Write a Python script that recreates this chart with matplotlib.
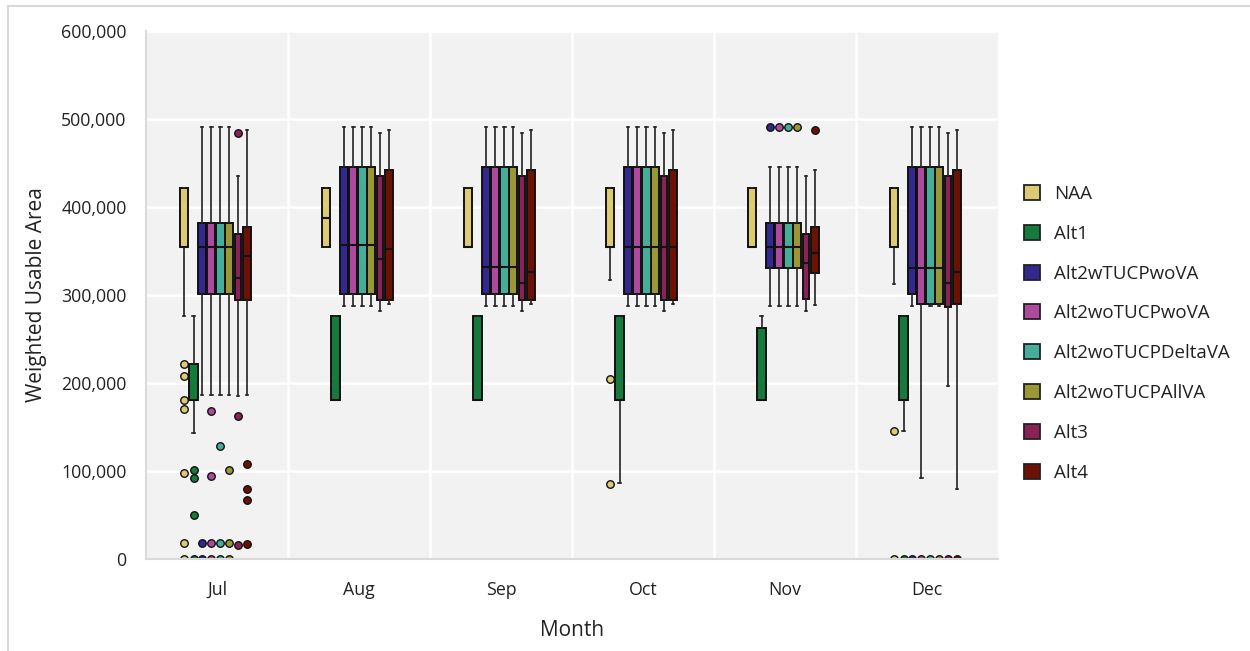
import matplotlib
matplotlib.use("Agg")
import matplotlib.pyplot as plt
from matplotlib.patches import Patch
from matplotlib.lines import Line2D
from matplotlib.ticker import FuncFormatter

plt.rcParams['font.family'] = ['Open Sans', 'DejaVu Sans']

months = ['Jul', 'Aug', 'Sep', 'Oct', 'Nov', 'Dec']
series = ['NAA', 'Alt1', 'Alt2wTUCPwoVA', 'Alt2woTUCPwoVA',
          'Alt2woTUCPDeltaVA', 'Alt2woTUCPAllVA', 'Alt3', 'Alt4']

# box stats per month: (whisker low, q1, median, q3, whisker high)
naa_box = [(276000, 354000, 354000, 422000, 422000),
           (354000, 354000, 388000, 422000, 422000),
           (354000, 354000, 354000, 422000, 422000),
           (317000, 354000, 354000, 422000, 422000),
           (354000, 354000, 354000, 422000, 422000),
           (313000, 354000, 354000, 422000, 422000)]
naa_out = [[222000, 208000, 181000, 170000, 98000, 18000, 0], [], [],
           [205000, 85000], [], [146000, 0]]

alt1_box = [(143000, 181000, 181000, 222000, 276000),
            (181000, 181000, 181000, 276000, 276000),
            (181000, 181000, 181000, 276000, 276000),
            (86000, 181000, 181000, 276000, 276000),
            (181000, 181000, 181000, 263000, 276000),
            (145000, 181000, 181000, 276000, 276000)]
alt1_out = [[101000, 92000, 50000, 0], [], [], [], [], [0]]

alt2w_box = [(186000, 301000, 354000, 382000, 491000),
             (287000, 301000, 357000, 445000, 491000),
             (287000, 301000, 332000, 445000, 491000),
             (287000, 301000, 355000, 445000, 491000),
             (287000, 331000, 354000, 382000, 445000),
             (287000, 301000, 331000, 445000, 491000)]
alt2w_out = [[18000, 0], [], [], [], [491000], [0]]

alt2wo_box = [(186000, 301000, 354000, 382000, 491000),
              (287000, 301000, 357000, 445000, 491000),
              (287000, 301000, 332000, 445000, 491000),
              (287000, 301000, 355000, 445000, 491000),
              (287000, 331000, 354000, 382000, 445000),
              (92000, 290000, 331000, 445000, 491000)]
alt2wo_out = [[168000, 94000, 18000, 0], [], [], [], [491000], [0]]

delta_box = [(186000, 301000, 354000, 382000, 491000),
             (287000, 301000, 357000, 445000, 491000),
             (287000, 301000, 332000, 445000, 491000),
             (287000, 301000, 355000, 445000, 491000),
             (287000, 331000, 354000, 382000, 445000),
             (287000, 290000, 331000, 445000, 491000)]
delta_out = [[128000, 18000, 0], [], [], [], [491000], [0]]

allva_box = [(186000, 301000, 354000, 382000, 491000),
             (287000, 301000, 357000, 445000, 491000),
             (287000, 301000, 332000, 445000, 491000),
             (287000, 301000, 355000, 445000, 491000),
             (287000, 331000, 354000, 382000, 445000),
             (287000, 290000, 331000, 445000, 491000)]
allva_out = [[101000, 18000, 0], [], [], [], [491000], [0]]

alt3_box = [(185000, 294000, 319000, 369000, 435000),
            (282000, 294000, 341000, 435000, 484000),
            (282000, 294000, 314000, 435000, 484000),
            (282000, 294000, 355000, 435000, 484000),
            (282000, 295000, 336000, 369000, 435000),
            (197000, 286000, 314000, 435000, 484000)]
alt3_out = [[484000, 162000, 16000], [], [], [], [], [0]]

alt4_box = [(186000, 294000, 344000, 377000, 488000),
            (290000, 294000, 352000, 442000, 488000),
            (290000, 294000, 326000, 442000, 488000),
            (290000, 294000, 355000, 442000, 488000),
            (289000, 325000, 348000, 377000, 442000),
            (80000, 290000, 326000, 442000, 488000)]
alt4_out = [[108000, 80000, 67000, 17000], [], [], [], [488000], [0]]

boxes = [naa_box, alt1_box, alt2w_box, alt2wo_box, delta_box, allva_box, alt3_box, alt4_box]
outliers = [naa_out, alt1_out, alt2w_out, alt2wo_out, delta_out, allva_out, alt3_out, alt4_out]

colors = ['#DCCB72', '#167A3C', '#332790', '#AE4A9E',
          '#45AE9A', '#9A9836', '#8A2257', '#6B1205']
offsets = [-0.232, -0.165, -0.104, -0.040, 0.024, 0.084, 0.148, 0.211]
widths = [0.062, 0.062, 0.058, 0.058, 0.058, 0.058, 0.048, 0.060]

fig = plt.figure(figsize=(12.5, 6.51), dpi=100)
ax = fig.add_axes([0.1168, 0.1413, 0.6816, 0.8111])
ax.set_facecolor('#F2F2F2')

for s in range(len(series)):
    stats = []
    for m in range(len(months)):
        lo, q1, med, q3, hi = boxes[s][m]
        stats.append(dict(whislo=lo, q1=q1, med=med, q3=q3, whishi=hi,
                          fliers=outliers[s][m]))
    pos = [m + offsets[s] for m in range(len(months))]
    ax.bxp(stats, positions=pos, widths=widths[s], capwidths=widths[s] * 0.3,
           patch_artist=True, manage_ticks=False,
           boxprops=dict(facecolor=colors[s], edgecolor='#111111', linewidth=1.4),
           medianprops=dict(color='#111111', linewidth=1.5),
           whiskerprops=dict(color='#222222', linewidth=1.2),
           capprops=dict(color='#222222', linewidth=1.2),
           flierprops=dict(marker='o', markerfacecolor=colors[s],
                           markeredgecolor='#111111', markersize=5.4,
                           markeredgewidth=1.0))

ax.set_xlim(-0.5, 5.5)
ax.set_ylim(0, 600000)
ax.set_xticks(range(len(months)))
ax.set_xticklabels(months)
ax.set_xticks([i + 0.5 for i in range(len(months) - 1)], minor=True)
ax.set_yticks(range(0, 600001, 100000))
ax.yaxis.set_major_formatter(FuncFormatter(lambda v, p: f'{int(v):,}'))

ax.grid(True, axis='y', color='white', linewidth=1.8)
ax.grid(True, axis='x', which='minor', color='white', linewidth=1.8)
ax.grid(False, axis='x', which='major')
ax.set_axisbelow(True)
ax.tick_params(axis='both', which='both', length=0, labelsize=12.8, colors='#222222')
ax.tick_params(axis='x', pad=16)
ax.tick_params(axis='y', pad=14)

for side in ['top', 'right']:
    ax.spines[side].set_visible(False)
for side in ['left', 'bottom']:
    ax.spines[side].set_color('#DADADA')
    ax.spines[side].set_linewidth(1.5)

ax.set_xlabel('Month', fontsize=15, color='#222222', labelpad=15)
ax.set_ylabel('Weighted Usable Area', fontsize=15, color='#222222', labelpad=10)

handles = [Patch(facecolor=c, edgecolor='#222222', linewidth=1.3) for c in colors]
fig.legend(handles, series, loc='upper left', bbox_to_anchor=(0.806, 0.742),
           frameon=False, fontsize=13.5, handlelength=0.85, handleheight=0.85,
           handletextpad=0.75, labelspacing=1.165, labelcolor='#222222')

# thin outer frame
fig.add_artist(Line2D([0.0064, 1.0], [0.9908, 0.9908], color='#D8D8D8', linewidth=1.5))
fig.add_artist(Line2D([0.0064, 0.0064], [0.0, 0.9908], color='#D8D8D8', linewidth=1.5))

fig.savefig('out.png', dpi=100)
